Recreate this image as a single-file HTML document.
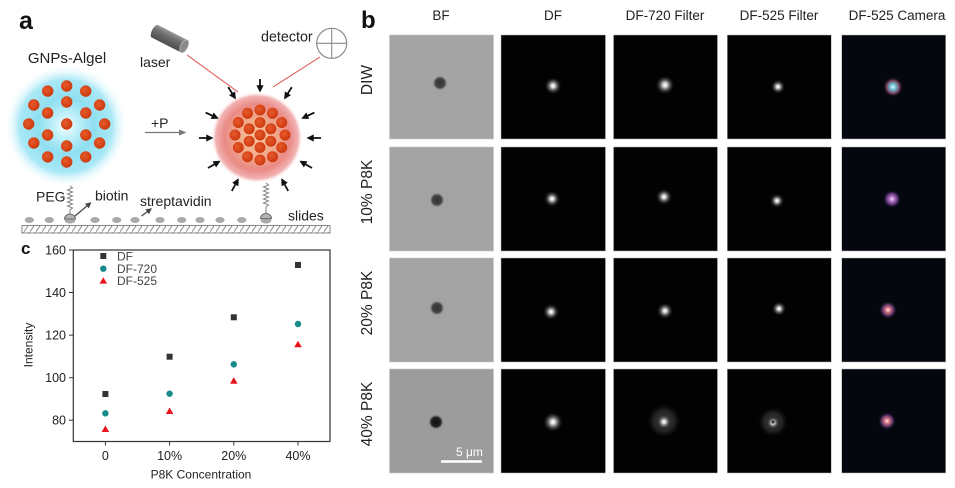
<!DOCTYPE html>
<html>
<head>
<meta charset="utf-8">
<style>
html,body{margin:0;padding:0;background:#fff;}
svg{display:block;}
text{font-family:"Liberation Sans",Arial,sans-serif;}
</style>
</head>
<body>
<svg width="955" height="488" viewBox="0 0 955 488" xmlns="http://www.w3.org/2000/svg">
<defs>
  <radialGradient id="cyan" cx="0.5" cy="0.5" r="0.5">
    <stop offset="0" stop-color="#ffffff"/>
    <stop offset="0.18" stop-color="#c4f1fa"/>
    <stop offset="0.45" stop-color="#8fdff1"/>
    <stop offset="0.75" stop-color="#a9e8f6"/>
    <stop offset="1" stop-color="#ffffff" stop-opacity="0"/>
  </radialGradient>
  <radialGradient id="redglow" cx="0.5" cy="0.5" r="0.5">
    <stop offset="0" stop-color="#f8c99b"/>
    <stop offset="0.4" stop-color="#f1ab8c"/>
    <stop offset="0.72" stop-color="#ea8b86"/>
    <stop offset="0.9" stop-color="#f2b3b3"/>
    <stop offset="1" stop-color="#ffffff" stop-opacity="0"/>
  </radialGradient>
  <radialGradient id="dot" cx="0.4" cy="0.4" r="0.6">
    <stop offset="0" stop-color="#e85a2a"/>
    <stop offset="1" stop-color="#cc3a10"/>
  </radialGradient>
  <linearGradient id="cyl" x1="0" y1="0" x2="0" y2="1">
    <stop offset="0" stop-color="#9a9a9a"/>
    <stop offset="0.35" stop-color="#707070"/>
    <stop offset="1" stop-color="#4e4e4e"/>
  </linearGradient>
  <pattern id="hatch" width="6" height="8" patternUnits="userSpaceOnUse">
    <rect width="6" height="8" fill="#fff"/>
    <line x1="-1" y1="9" x2="6" y2="-1" stroke="#8a8a8a" stroke-width="1"/>
  </pattern>
  <marker id="ahB" viewBox="0 0 10 10" refX="8" refY="5" markerWidth="4" markerHeight="4" orient="auto">
    <path d="M0,0 L10,5 L0,10 z" fill="#111"/>
  </marker>
  <marker id="ahG" viewBox="0 0 10 10" refX="8" refY="5" markerWidth="5" markerHeight="5" orient="auto">
    <path d="M0,0 L10,5 L0,10 z" fill="#444"/>
  </marker>
  <marker id="ahP" viewBox="0 0 10 10" refX="8" refY="5" markerWidth="6" markerHeight="6" orient="auto">
    <path d="M0,1 L10,5 L0,9 z" fill="#777"/>
  </marker>
  <radialGradient id="bfdot" cx="0.5" cy="0.5" r="0.5">
    <stop offset="0" stop-color="#333"/>
    <stop offset="0.6" stop-color="#444"/>
    <stop offset="1" stop-color="#a4a4a4" stop-opacity="0"/>
  </radialGradient>
  <radialGradient id="bfdot2" cx="0.5" cy="0.5" r="0.5">
    <stop offset="0" stop-color="#101010"/>
    <stop offset="0.6" stop-color="#202020"/>
    <stop offset="1" stop-color="#9c9c9c" stop-opacity="0"/>
  </radialGradient>
  <radialGradient id="sp" cx="0.5" cy="0.55" r="0.5">
    <stop offset="0" stop-color="#ffffff"/>
    <stop offset="0.18" stop-color="#e0e0e0"/>
    <stop offset="0.45" stop-color="#6a6a6a"/>
    <stop offset="1" stop-color="#000" stop-opacity="0"/>
  </radialGradient>
  <radialGradient id="halo" cx="0.5" cy="0.5" r="0.5">
    <stop offset="0" stop-color="#444"/>
    <stop offset="0.6" stop-color="#222"/>
    <stop offset="1" stop-color="#000" stop-opacity="0"/>
  </radialGradient>
  <radialGradient id="camC" cx="0.5" cy="0.5" r="0.5">
    <stop offset="0" stop-color="#d8f4ff"/>
    <stop offset="0.3" stop-color="#6cc0d0"/>
    <stop offset="0.65" stop-color="#7a4060"/>
    <stop offset="1" stop-color="#05070f" stop-opacity="0"/>
  </radialGradient>
  <radialGradient id="camP" cx="0.5" cy="0.5" r="0.5">
    <stop offset="0" stop-color="#f6e0f6"/>
    <stop offset="0.3" stop-color="#b070c0"/>
    <stop offset="0.65" stop-color="#5a3070"/>
    <stop offset="1" stop-color="#05070f" stop-opacity="0"/>
  </radialGradient>
  <radialGradient id="camR" cx="0.5" cy="0.5" r="0.5">
    <stop offset="0" stop-color="#ffe8e8"/>
    <stop offset="0.3" stop-color="#d07080"/>
    <stop offset="0.65" stop-color="#503060"/>
    <stop offset="1" stop-color="#05070f" stop-opacity="0"/>
  </radialGradient>
</defs>

<!-- ============ PANEL A ============ -->
<text x="19" y="29" font-size="25" font-weight="bold" fill="#111">a</text>

<circle cx="66" cy="126" r="62" fill="url(#cyan)"/>
<text x="67" y="63" font-size="15" fill="#222" text-anchor="middle">GNPs-Algel</text>
<g fill="url(#dot)">
  <circle cx="66.7" cy="124" r="5.7"/>
  <circle cx="66.7" cy="102" r="5.7"/>
  <circle cx="85.8" cy="113" r="5.7"/>
  <circle cx="85.8" cy="135" r="5.7"/>
  <circle cx="66.7" cy="146" r="5.7"/>
  <circle cx="47.6" cy="135" r="5.7"/>
  <circle cx="47.6" cy="113" r="5.7"/>
  <circle cx="66.7" cy="86" r="5.7"/>
  <circle cx="85.7" cy="91.1" r="5.7"/>
  <circle cx="99.6" cy="105" r="5.7"/>
  <circle cx="104.7" cy="124" r="5.7"/>
  <circle cx="99.6" cy="143" r="5.7"/>
  <circle cx="85.7" cy="156.9" r="5.7"/>
  <circle cx="66.7" cy="162" r="5.7"/>
  <circle cx="47.7" cy="156.9" r="5.7"/>
  <circle cx="33.8" cy="143" r="5.7"/>
  <circle cx="28.7" cy="124" r="5.7"/>
  <circle cx="33.8" cy="105" r="5.7"/>
  <circle cx="47.7" cy="91.1" r="5.7"/>
</g>

<text x="151" y="128" font-size="14" fill="#222">+P</text>
<line x1="145" y1="132.5" x2="185" y2="132.5" stroke="#777" stroke-width="1.3" marker-end="url(#ahP)"/>

<g transform="translate(170,39) rotate(27)">
  <path d="M-17,-7 L16,-7 L16,7 L-17,7 A3,7 0 0 1 -17,-7 z" fill="url(#cyl)"/>
  <ellipse cx="16" cy="0" rx="3.5" ry="7" fill="#8a8a8a" stroke="#bdbdbd" stroke-width="0.8"/>
</g>
<text x="140" y="67" font-size="14" fill="#222">laser</text>
<line x1="187" y1="55" x2="238" y2="92" stroke="#e06a6a" stroke-width="1.1"/>

<text x="261" y="41.5" font-size="14.3" fill="#222">detector</text>
<circle cx="331.7" cy="43.3" r="15" fill="#fff" stroke="#8a8a8a" stroke-width="1.2"/>
<line x1="316.7" y1="43.3" x2="346.7" y2="43.3" stroke="#8a8a8a" stroke-width="1.1"/>
<line x1="331.7" y1="28.3" x2="331.7" y2="58.3" stroke="#8a8a8a" stroke-width="1.1"/>
<line x1="320" y1="57" x2="273" y2="87" stroke="#e06a6a" stroke-width="1.1"/>

<circle cx="257" cy="137.5" r="46" fill="url(#redglow)"/>
<g fill="url(#dot)">
  <circle cx="260" cy="135" r="5.5"/>
  <circle cx="260" cy="122.5" r="5.5"/>
  <circle cx="270.8" cy="128.8" r="5.5"/>
  <circle cx="270.8" cy="141.2" r="5.5"/>
  <circle cx="260" cy="147.5" r="5.5"/>
  <circle cx="249.2" cy="141.2" r="5.5"/>
  <circle cx="249.2" cy="128.8" r="5.5"/>
  <circle cx="260" cy="110" r="5.5"/>
  <circle cx="272.5" cy="113.3" r="5.5"/>
  <circle cx="281.7" cy="122.5" r="5.5"/>
  <circle cx="285" cy="135" r="5.5"/>
  <circle cx="281.7" cy="147.5" r="5.5"/>
  <circle cx="272.5" cy="156.7" r="5.5"/>
  <circle cx="260" cy="160" r="5.5"/>
  <circle cx="247.5" cy="156.7" r="5.5"/>
  <circle cx="238.3" cy="147.5" r="5.5"/>
  <circle cx="235" cy="135" r="5.5"/>
  <circle cx="238.3" cy="122.5" r="5.5"/>
  <circle cx="247.5" cy="113.3" r="5.5"/>
</g>

<g stroke="#111" stroke-width="1.8" marker-end="url(#ahB)">
  <line x1="260" y1="79" x2="260" y2="91"/>
  <line x1="228.2" y1="87.1" x2="235.1" y2="98.1"/>
  <line x1="291.8" y1="87.1" x2="284.9" y2="98.1"/>
  <line x1="205.6" y1="112.6" x2="217.4" y2="118.1"/>
  <line x1="314.4" y1="112.6" x2="302.6" y2="118.1"/>
  <line x1="199" y1="138" x2="212" y2="138"/>
  <line x1="321" y1="138" x2="308" y2="138"/>
  <line x1="208" y1="168" x2="219.3" y2="161.5"/>
  <line x1="312" y1="168" x2="300.7" y2="161.5"/>
  <line x1="231.8" y1="191" x2="238" y2="179.5"/>
  <line x1="288.2" y1="191" x2="282" y2="179.5"/>
</g>

<rect x="22" y="225.5" width="308" height="7.5" fill="url(#hatch)" stroke="#8a8a8a" stroke-width="1"/>
<g fill="#a9a9a9">
  <ellipse cx="29.3" cy="220" rx="4.6" ry="3"/>
  <ellipse cx="49.3" cy="220" rx="4.6" ry="3"/>
  <ellipse cx="95" cy="220" rx="4.6" ry="3"/>
  <ellipse cx="116.7" cy="220" rx="4.6" ry="3"/>
  <ellipse cx="135" cy="220" rx="4.6" ry="3"/>
  <ellipse cx="160" cy="220" rx="4.6" ry="3"/>
  <ellipse cx="181.7" cy="220" rx="4.6" ry="3"/>
  <ellipse cx="200" cy="220" rx="4.6" ry="3"/>
  <ellipse cx="220" cy="220" rx="4.6" ry="3"/>
  <ellipse cx="241.7" cy="220" rx="4.6" ry="3"/>
</g>
<polyline points="70,186 72.5,188 67.5,190 72.5,192 67.5,194 72.5,196 67.5,198 72.5,200 67.5,202 72.5,204 67.5,206 72.5,208 70,210 70,214" fill="none" stroke="#8a8a8a" stroke-width="1.1"/>
<ellipse cx="70" cy="220" rx="5.5" ry="3.5" fill="#a9a9a9"/>
<path d="M64.5,219 A5.5,5 0 0 1 75.5,219 z" fill="#b5b5b5" stroke="#555" stroke-width="0.8"/>
<polyline points="266,183 268.5,185 263.5,187 268.5,189 263.5,191 268.5,193 263.5,195 268.5,197 263.5,199 268.5,201 263.5,203 268.5,205 266,207 266,213" fill="none" stroke="#8a8a8a" stroke-width="1.1"/>
<ellipse cx="266" cy="220" rx="5.5" ry="3.5" fill="#a9a9a9"/>
<path d="M260.5,218.5 A5.5,5 0 0 1 271.5,218.5 z" fill="#b5b5b5" stroke="#555" stroke-width="0.8"/>

<text x="36" y="201.5" font-size="14" fill="#222">PEG</text>
<text x="95" y="200.5" font-size="14" fill="#222">biotin</text>
<text x="140" y="206" font-size="14" fill="#222">streptavidin</text>
<text x="288" y="220.5" font-size="14" fill="#222">slides</text>
<line x1="75" y1="216" x2="90.5" y2="203" stroke="#444" stroke-width="1.2" marker-end="url(#ahG)"/>
<line x1="141.5" y1="216" x2="151" y2="209" stroke="#444" stroke-width="1.2" marker-end="url(#ahG)"/>

<!-- ============ PANEL B ============ -->
<text x="361" y="28" font-size="24" font-weight="bold" fill="#111">b</text>
<g font-size="13.5" fill="#222" text-anchor="middle">
  <text x="441" y="20">BF</text>
  <text x="553" y="20">DF</text>
  <text x="665" y="20">DF-720 Filter</text>
  <text x="779" y="20">DF-525 Filter</text>
  <text x="897" y="20">DF-525 Camera</text>
</g>
<g font-size="15.5" fill="#222" text-anchor="middle">
  <text transform="translate(372,80) rotate(-90)">DIW</text>
  <text transform="translate(372,192) rotate(-90)">10% P8K</text>
  <text transform="translate(372,303) rotate(-90)">20% P8K</text>
  <text transform="translate(372,414) rotate(-90)">40% P8K</text>
</g>

<g stroke="#c8c8c8" stroke-width="0.6">
  <rect x="389.5" y="35" width="104" height="104" fill="#a4a4a4"/>
  <rect x="389.5" y="147" width="104" height="104" fill="#a3a3a3"/>
  <rect x="389.5" y="258" width="104" height="104" fill="#a3a3a3"/>
  <rect x="389.5" y="369" width="104" height="104" fill="#9c9c9c"/>
</g>
<circle cx="440" cy="83" r="8" fill="url(#bfdot)"/>
<circle cx="437" cy="200" r="8" fill="url(#bfdot)"/>
<circle cx="437" cy="308" r="8" fill="url(#bfdot)"/>
<circle cx="436" cy="422" r="8" fill="url(#bfdot2)"/>
<line x1="441" y1="461.5" x2="482" y2="461.5" stroke="#fff" stroke-width="2.5"/>
<text x="456" y="456" font-size="12" fill="#fff">5 μm</text>

<g stroke="#bbb" stroke-width="0.5" fill="#020202">
  <rect x="501" y="35" width="104.5" height="104"/>
  <rect x="501" y="147" width="104.5" height="104"/>
  <rect x="501" y="258" width="104.5" height="104"/>
  <rect x="501" y="369" width="104.5" height="104"/>
  <rect x="613.5" y="35" width="104" height="104"/>
  <rect x="613.5" y="147" width="104" height="104"/>
  <rect x="613.5" y="258" width="104" height="104"/>
  <rect x="613.5" y="369" width="104" height="104"/>
  <rect x="727.3" y="35" width="104" height="104"/>
  <rect x="727.3" y="147" width="104" height="104"/>
  <rect x="727.3" y="258" width="104" height="104"/>
  <rect x="727.3" y="369" width="104" height="104"/>
</g>
<g stroke="#bbb" stroke-width="0.5" fill="#05070f">
  <rect x="841.7" y="35" width="104" height="104"/>
  <rect x="841.7" y="147" width="104" height="104"/>
  <rect x="841.7" y="258" width="104" height="104"/>
  <rect x="841.7" y="369" width="104" height="104"/>
</g>

<circle cx="664" cy="421" r="18" fill="url(#halo)"/>
<circle cx="773" cy="422" r="16" fill="url(#halo)"/>

<circle cx="553" cy="85" r="9" fill="url(#sp)"/>
<circle cx="665" cy="84" r="10" fill="url(#sp)"/>
<circle cx="778" cy="86" r="7.5" fill="url(#sp)"/>
<circle cx="552" cy="198" r="8.5" fill="url(#sp)"/>
<circle cx="664" cy="196" r="8.5" fill="url(#sp)"/>
<circle cx="777" cy="200" r="7.5" fill="url(#sp)"/>
<circle cx="551" cy="311" r="8.5" fill="url(#sp)"/>
<circle cx="665" cy="310" r="8.5" fill="url(#sp)"/>
<circle cx="779" cy="308" r="7.5" fill="url(#sp)"/>
<circle cx="553" cy="421" r="10.5" fill="url(#sp)"/>
<circle cx="664" cy="421" r="8.5" fill="url(#sp)"/>
<circle cx="773" cy="422" r="7.5" fill="url(#sp)"/>
<circle cx="773" cy="422" r="1.6" fill="#333"/>

<circle cx="893" cy="87" r="10" fill="url(#camC)"/>
<circle cx="892" cy="199" r="9" fill="url(#camP)"/>
<circle cx="888" cy="310" r="9" fill="url(#camR)"/>
<circle cx="887" cy="421" r="9" fill="url(#camR)"/>

<!-- ============ PANEL C ============ -->
<text x="21" y="254" font-size="17" font-weight="bold" fill="#111">c</text>
<rect x="73.3" y="250" width="256.7" height="191.5" fill="none" stroke="#333" stroke-width="1.2"/>
<g stroke="#333" stroke-width="1">
  <line x1="69" y1="250" x2="73.3" y2="250"/>
  <line x1="69" y1="292.5" x2="73.3" y2="292.5"/>
  <line x1="69" y1="335.1" x2="73.3" y2="335.1"/>
  <line x1="69" y1="377.7" x2="73.3" y2="377.7"/>
  <line x1="69" y1="420.2" x2="73.3" y2="420.2"/>
  <line x1="105.4" y1="441.5" x2="105.4" y2="445.5"/>
  <line x1="169.6" y1="441.5" x2="169.6" y2="445.5"/>
  <line x1="233.8" y1="441.5" x2="233.8" y2="445.5"/>
  <line x1="298" y1="441.5" x2="298" y2="445.5"/>
</g>
<g font-size="12.5" fill="#222" text-anchor="end">
  <text x="66" y="254.5">160</text>
  <text x="66" y="297">140</text>
  <text x="66" y="339.6">120</text>
  <text x="66" y="382.2">100</text>
  <text x="66" y="424.7">80</text>
</g>
<g font-size="12.5" fill="#222" text-anchor="middle">
  <text x="105.4" y="460">0</text>
  <text x="169.6" y="460">10%</text>
  <text x="233.8" y="460">20%</text>
  <text x="298" y="460">40%</text>
</g>
<text x="201" y="478.5" font-size="12" fill="#222" text-anchor="middle">P8K Concentration</text>
<text transform="translate(32.5,345) rotate(-90)" font-size="12" fill="#222" text-anchor="middle">Intensity</text>

<rect x="100.3" y="253" width="6" height="6" fill="#333"/>
<text x="117" y="260.5" font-size="12" fill="#444">DF</text>
<circle cx="103.3" cy="268.7" r="3.2" fill="#178a8a"/>
<text x="117" y="273" font-size="12" fill="#444">DF-720</text>
<path d="M103.3,277.2 L107.1,283.6 L99.5,283.6 z" fill="#e8141c"/>
<text x="117" y="285" font-size="12" fill="#444">DF-525</text>

<g fill="#333">
  <rect x="102.4" y="391" width="6" height="6"/>
  <rect x="166.6" y="353.7" width="6" height="6"/>
  <rect x="230.8" y="314.3" width="6" height="6"/>
  <rect x="295" y="262" width="6" height="6"/>
</g>
<g fill="#178a8a">
  <circle cx="105.4" cy="413.3" r="3.2"/>
  <circle cx="169.6" cy="393.7" r="3.2"/>
  <circle cx="233.8" cy="364.3" r="3.2"/>
  <circle cx="298" cy="324" r="3.2"/>
</g>
<g fill="#e8141c">
  <path d="M105.4,425.5 L109.2,432 L101.6,432 z"/>
  <path d="M169.6,407.5 L173.4,414 L165.8,414 z"/>
  <path d="M233.8,377.2 L237.6,383.7 L230,383.7 z"/>
  <path d="M298,340.8 L301.8,347.3 L294.2,347.3 z"/>
</g>
</svg>
</body>
</html>
